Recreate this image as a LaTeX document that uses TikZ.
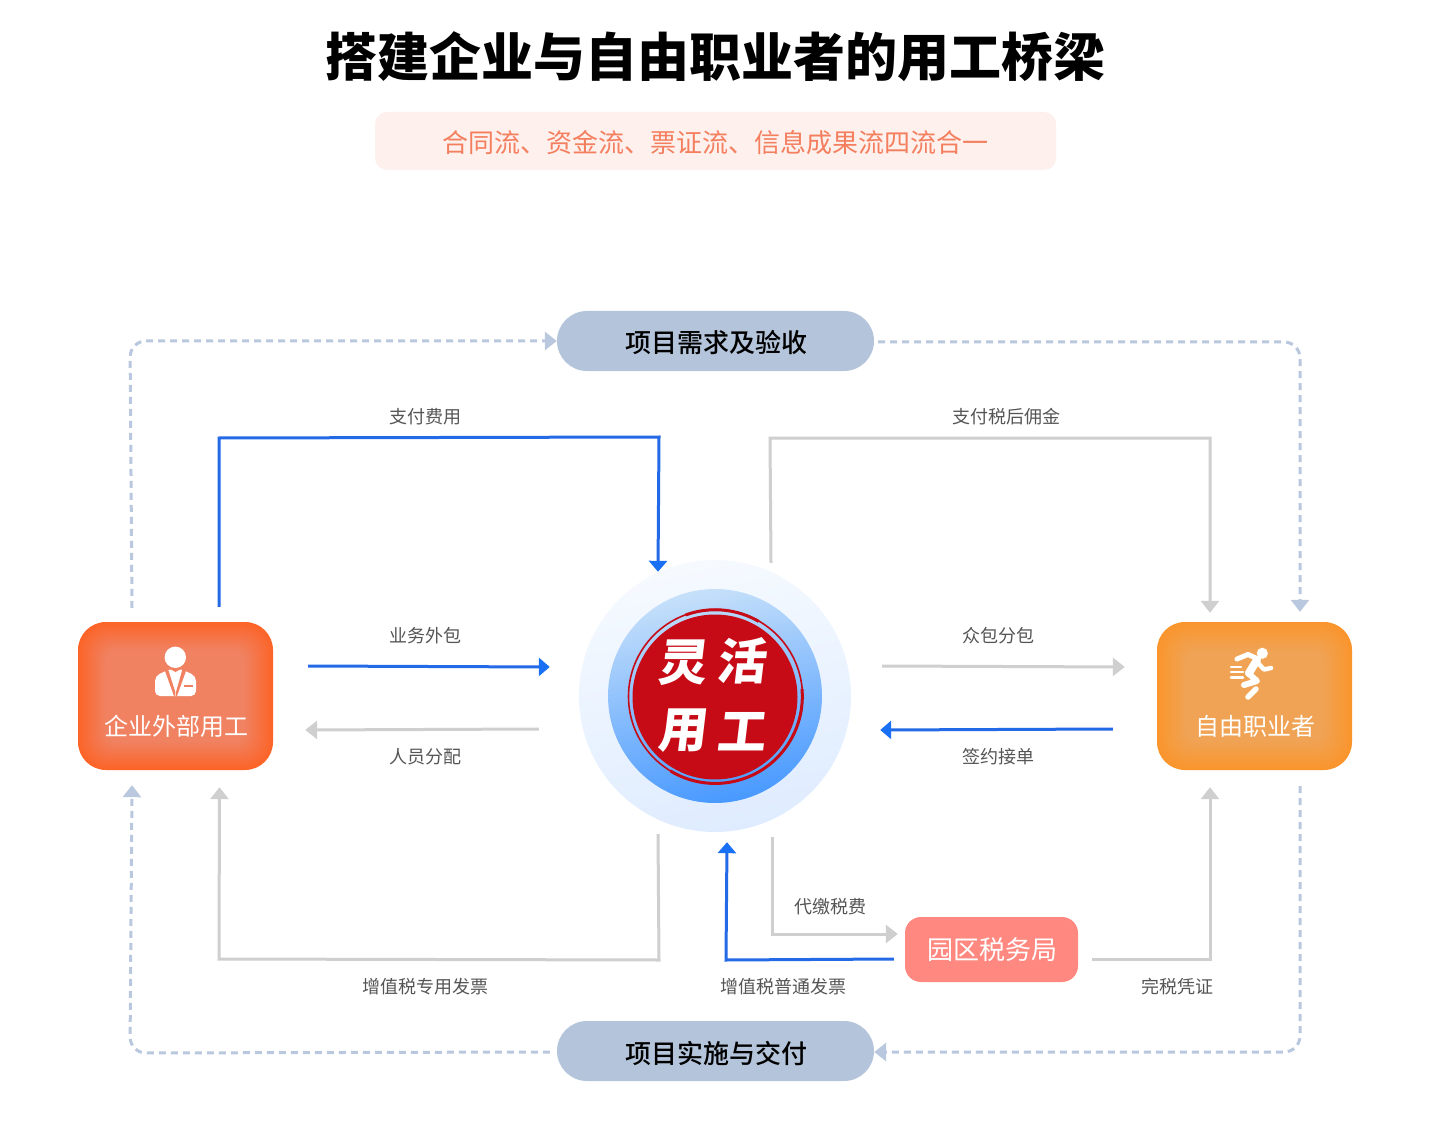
\documentclass[tikz,border=0pt]{standalone}
\usepackage{fontspec}
\setmainfont{Noto Sans CJK SC}
\newfontfamily\cjkblack{Noto Sans CJK SC Black}
\newfontfamily\cjkmed{Noto Sans CJK SC Medium}
\usetikzlibrary{arrows.meta,calc}
\definecolor{flowblue}{HTML}{2469E6}
\definecolor{tipblue}{HTML}{1A70F5}
\definecolor{flowgray}{HTML}{CFCFCF}
\definecolor{dashblue}{HTML}{B9C8DE}
\definecolor{pillblue}{HTML}{B4C4DA}
\definecolor{labelgray}{HTML}{555555}
\definecolor{sealred}{HTML}{C60B16}
\definecolor{orangeA}{HTML}{FC6428}
\definecolor{orangeAc}{HTML}{F08262}
\definecolor{orangeB}{HTML}{FA952C}
\definecolor{orangeBc}{HTML}{F0A354}
\definecolor{subfill}{HTML}{FEF0EC}
\definecolor{subtext}{HTML}{F47F5F}
\definecolor{hubtop}{HTML}{F6FAFF}
\definecolor{hubbot}{HTML}{DFECFF}
\definecolor{midtop}{HTML}{C6E0FA}
\definecolor{midbot}{HTML}{4899FF}
\definecolor{parkfill}{HTML}{FF8980}
\tikzset{
  flowb/.style={draw=flowblue,line width=3pt,-{Triangle[width=18pt,length=11pt,color=tipblue]}},
  flowg/.style={draw=flowgray,line width=3pt,-{Triangle[width=18pt,length=12pt]}},
  dashb/.style={draw=dashblue,line width=3pt,dash pattern=on 7pt off 5pt,rounded corners=16pt},
  dashtip/.style={-{Triangle[width=18pt,length=12pt,color=dashblue]}},
  flabel/.style={text=labelgray,font=\fontsize{18}{18}\selectfont,inner sep=0pt},
  pill/.style={fill=pillblue,rounded corners=30pt,minimum width=317pt,minimum height=60pt,inner sep=0pt},
  pilltext/.style={font=\cjkmed\fontsize{26}{26}\selectfont,text=black,inner sep=0pt},
  rolebox/.style={rounded corners=28pt,minimum width=195pt,minimum height=148pt,inner sep=0pt},
  roletext/.style={text=white,font=\fontsize{24}{24}\selectfont,inner sep=0pt},
  sealtext/.style={text=white,font=\bfseries\fontsize{49}{49}\selectfont,inner sep=0pt,xslant=0.12,transform shape},
  iconline/.style={draw=white,line cap=round,line join=round},
}
\newcommand{\glowfill}[6]{% x1 y1 x2 y2 centre edge
  \foreach \k in {1,...,28}{
    \pgfmathtruncatemacro{\mixp}{\k*100/28}
    \pgfmathsetmacro{\rad}{max(28-0.6*\k,12)}
    \fill[#5!\mixp!#6,rounded corners=\rad pt]
      (#1+\k,#2+\k) rectangle (#3-\k,#4-\k);
  }}
\begin{document}
\begin{tikzpicture}[x=1pt,y=-1pt]
\useasboundingbox (0,0) rectangle (1438,1123);
\fill[white] (0,0) rectangle (1438,1123);
% titles
\node[inner sep=0pt,font=\cjkblack\fontsize{52}{52}\selectfont,text=black] (title) at (715,56.5) {搭建企业与自由职业者的用工桥梁};
\node[inner sep=0pt,minimum width=681pt,minimum height=58pt,fill=subfill,rounded corners=12pt] (subtitle) at (715.5,141) {};
\node[inner sep=0pt,text=subtext,font=\fontsize{26}{26}\selectfont] (subtitlet) at (715,143) {合同流、资金流、票证流、信息成果流四流合一};
% pills
\node[pill] (need) at (715.5,341) {};
\node[pilltext] (needt) at (716,343) {项目需求及验收};
\node[pill] (deliver) at (715.5,1051) {};
\node[pilltext] (delivert) at (716,1053) {项目实施与交付};
% hub
\node[circle,minimum size=272pt,inner sep=0pt,top color=hubtop,bottom color=hubbot,shading angle=12] (hub) at (715,696) {};
\node[circle,minimum size=214pt,inner sep=0pt,top color=midtop,bottom color=midbot,shading angle=12] (hubmid) at (715,696) {};
\node[circle,minimum size=174pt,inner sep=0pt,draw=sealred,line width=1.6pt] (sealring) at (715.5,696.5) {};
\draw[sealred,line width=3pt] ($(sealring.center)+(-45,74.5)$) arc[start angle=121,end angle=-5,radius=87];
\draw[sealred,line width=3pt] ($(sealring.center)+(-30,-81.5)$) arc[start angle=250,end angle=300,radius=87];
\node[circle,minimum size=165pt,inner sep=0pt,fill=sealred] (seal) at (715,697) {};
\node[sealtext] (s1) at (684,663) {灵};
\node[sealtext] (s2) at (743,661) {活};
\node[sealtext] (s3) at (684,731) {用};
\node[sealtext] (s4) at (743,732) {工};
% role boxes
\node[rolebox,fill=orangeA] (client) at (175.5,696) {};
\glowfill{78}{622}{273}{770}{orangeAc}{orangeA}
\node[roletext] (clientt) at (176,726) {企业外部用工};
\node[rolebox,fill=orangeB] (worker) at (1254.5,696) {};
\glowfill{1157}{622}{1352}{770}{orangeBc}{orangeB}
\node[roletext] (workert) at (1255,726) {自由职业者};
% park box
\node[fill=parkfill,rounded corners=16pt,minimum width=173pt,minimum height=65pt,inner sep=0pt] (park) at (991.5,949.5) {};
\node[text=white,font=\fontsize{26}{26}\selectfont,inner sep=0pt] (parkt) at (992,950) {园区税务局};
% person icon
\fill[white] (175.3,657.3) circle (10.7);
\fill[white,rounded corners=5pt] (155,696) -- (155,676) -- (170,669) -- (181,669) -- (196,676) -- (196,696) -- cycle;
\fill[orangeAc] (168,669) -- (175.3,692) -- (175.3,696) -- (174,696) -- (165,671) -- cycle;
\fill[orangeAc] (182.5,669) -- (176,692) -- (176,696) -- (177,696) -- (186,671) -- cycle;
\fill[orangeAc] (170,669) -- (181,669) -- (175.5,672) -- cycle;
\fill[orangeAc] (184,685.2) rectangle (193,686.8);
% runner icon
\fill[white] (1262.3,653.3) circle (5.6);
\draw[iconline,line width=5pt] (1258,659) -- (1248,654.5) -- (1237,659);
\draw[iconline,line width=8pt] (1257,660) -- (1249,673);
\draw[iconline,line width=4.5pt] (1257,662) -- (1264,669.5) -- (1271,668);
\draw[iconline,line width=6pt] (1248,673) -- (1257,681) -- (1244,685);
\draw[iconline,line width=5.5pt] (1256,689) -- (1248,697);
\draw[iconline,line width=2.5pt] (1231,667) -- (1241,667);
\draw[iconline,line width=2.5pt] (1231,672) -- (1243,672);
\draw[iconline,line width=2.5pt] (1231,677.5) -- (1243,677.5);
% solid connectors
\draw[flowb] ($(client.north)+(43.5,-15)$) -- (219,438) -- (659,437) -- ($(hub.north)+(-57,12)$);
\draw[flowg] ($(hub.north)+(56,3)$) -- (770,438) -- (1210,438) -- ($(worker.north)+(-44.5,-9)$);
\draw[flowb] ($(client.east)+(35,-30)$) -- ($(hub.west)+(-29,-29)$);
\draw[flowg] ($(hub.west)+(-40,33)$) -- ($(client.east)+(32,34)$);
\draw[flowg] ($(hub.east)+(31,-30)$) -- ($(worker.west)+(-32,-29)$);
\draw[flowb] ($(worker.west)+(-44,33)$) -- ($(hub.east)+(29,34)$);
\draw[flowg] ($(hub.south)+(-57,2)$) -- (659,960) -- (219,959) -- ($(client.south)+(44,17)$);
\draw[flowg] ($(hub.south)+(57,5)$) -- (772,934) -- ($(park.west)+(-7,-15.5)$);
\draw[flowb] ($(park.west)+(-11,9.5)$) -- (726,960) -- ($(hub.south)+(12,10)$);
\draw[flowg] ($(park.east)+(14,9.5)$) -- (1210,959) -- ($(worker.south)+(-44.5,17)$);
% dashed connectors
\draw[dashb,dashtip] ($(client.north)+(-43.5,-14)$) -- (130,341) -- (need.west);
\draw[dashb,dashtip] ($(need.east)+(4,1)$) -- (1300,342) -- ($(worker.north)+(45.5,-10)$);
\draw[dashb,dashtip] ($(worker.south)+(45.5,16)$) -- (1300,1052) -- ($(deliver.east)+(0,1)$);
\draw[dashb,dashtip] ($(deliver.west)+(-7,1)$) -- (130,1053) -- ($(client.south)+(-43.5,15)$);
% labels
\node[flabel] (l1) at (425,417) {支付费用};
\node[flabel] (l2) at (1006,417) {支付税后佣金};
\node[flabel] (l3) at (425,636) {业务外包};
\node[flabel] (l4) at (425,757) {人员分配};
\node[flabel] (l5) at (998,636) {众包分包};
\node[flabel] (l6) at (998,757) {签约接单};
\node[flabel] (l7) at (830,907) {代缴税费};
\node[flabel] (l8) at (425,987) {增值税专用发票};
\node[flabel] (l9) at (783,987) {增值税普通发票};
\node[flabel] (l10) at (1177,987) {完税凭证};
\end{tikzpicture}
\end{document}
